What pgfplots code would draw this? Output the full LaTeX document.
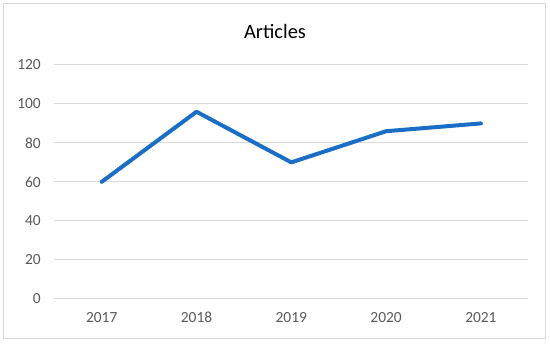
\documentclass[border=0pt]{standalone}
\usepackage{fontspec}
\setmainfont{Carlito}
\usepackage{pgfplots}
\pgfplotsset{compat=1.18}
\definecolor{lineblue}{HTML}{1B6EC6}
\definecolor{gridgray}{HTML}{D9D9D9}
\definecolor{ticktext}{HTML}{595959}
\begin{document}
\begin{tikzpicture}[x=1bp,y=1bp]
\useasboundingbox (0,0) rectangle (550,344);
\draw[gridgray, line width=1bp] (3.5,5.5) rectangle (545.5,340);
\node[font=\fontsize{20.5}{24}\selectfont, text=black] at (275,313) {Articles};
\begin{axis}[
  at={(54.3bp,45.3bp)}, anchor=south west,
  scale only axis,
  width=474bp, height=233.7bp,
  xmin=-0.5, xmax=4.5,
  ymin=0, ymax=120,
  xtick={0,1,2,3,4},
  xticklabels={2017,2018,2019,2020,2021},
  ytick={0,20,40,60,80,100,120},
  axis line style={draw=none},
  axis x line*=bottom,
  axis y line*=left,
  x axis line style={draw=gridgray, line width=1bp},
  major tick length=0pt,
  ymajorgrids,
  grid style={gridgray, line width=1bp},
  tick label style={font=\fontsize{15.5}{18}\selectfont, text=ticktext},
  /pgf/number format/assume math mode=true,
  yticklabel style={xshift=-10bp},
  xticklabel style={yshift=-10bp},
  clip=false,
]
\addplot[lineblue, line width=4bp, line join=round, line cap=round] coordinates {
  (0,60) (1,96) (2,70) (3,86) (4,90)
};
\end{axis}
\end{tikzpicture}
\end{document}
